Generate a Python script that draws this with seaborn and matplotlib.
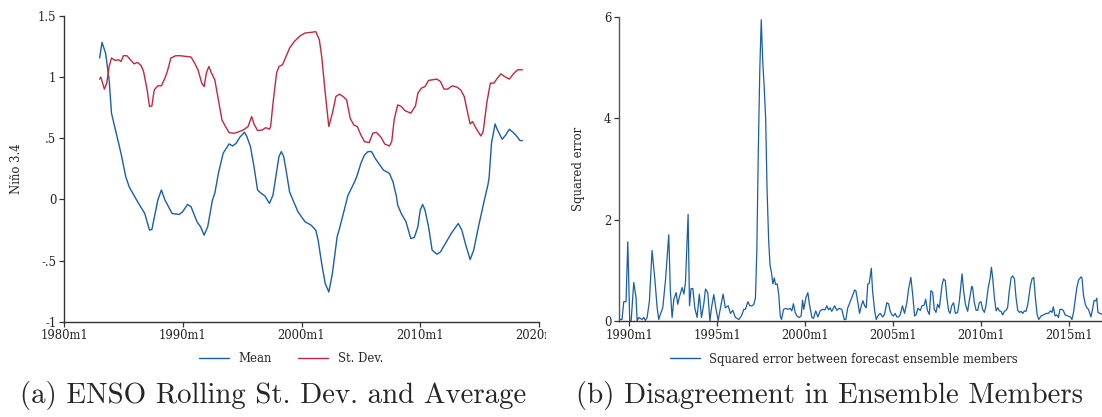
import numpy as np
import pandas as pd
import matplotlib
matplotlib.use("Agg")
import matplotlib.pyplot as plt
import seaborn as sns
from matplotlib.lines import Line2D
from matplotlib.transforms import Bbox, TransformedBbox

# ---- data ----
# (a) rolling mean of Nino 3.4
mean_year = [1983.0, 1983.2, 1983.5, 1983.8, 1984.0, 1984.4, 1984.8, 1985.2, 1985.5, 1986.2,
             1986.8, 1987.2, 1987.4, 1987.9, 1988.2, 1988.5, 1989.1, 1989.7, 1990.0, 1990.4,
             1990.7, 1991.2, 1991.5, 1991.8, 1992.1, 1992.5, 1992.7, 1993.0, 1993.4, 1993.9,
             1994.2, 1994.5, 1994.8, 1995.2, 1995.4, 1995.7, 1996.0, 1996.3, 1996.6, 1996.9,
             1997.3, 1997.6, 1998.1, 1998.3, 1998.5, 1998.7, 1999.0, 1999.4, 1999.7, 2000.0,
             2000.3, 2000.8, 2001.2, 2001.4, 2001.7, 2002.0, 2002.3, 2002.6, 2003.0, 2003.2,
             2003.6, 2003.9, 2004.2, 2004.5, 2004.7, 2005.0, 2005.3, 2005.6, 2005.9, 2006.2,
             2006.5, 2006.9, 2007.4, 2007.7, 2008.0, 2008.1, 2008.4, 2008.8, 2009.2, 2009.5,
             2009.8, 2010.0, 2010.2, 2010.4, 2010.7, 2011.0, 2011.4, 2011.7, 2012.2, 2012.6,
             2013.2, 2013.5, 2013.8, 2014.2, 2014.5, 2014.9, 2015.4, 2015.7, 2015.8, 2016.0,
             2016.3, 2016.5, 2016.9, 2017.2, 2017.5, 2017.9, 2018.2, 2018.4, 2018.6]
mean_val = [1.156, 1.284, 1.197, 0.978, 0.705, 0.541, 0.377, 0.186, 0.10, -0.019,
            -0.115, -0.251, -0.246, -0.005, 0.077, -0.005, -0.115, -0.123, -0.10, -0.041,
            -0.06, -0.183, -0.224, -0.292, -0.224, -0.005, 0.05, 0.213, 0.377, 0.454,
            0.437, 0.459, 0.508, 0.549, 0.514, 0.432, 0.268, 0.077, 0.05, 0.03,
            -0.033, 0.036, 0.35, 0.391, 0.35, 0.24, 0.06, -0.033, -0.101, -0.142,
            -0.183, -0.21, -0.251, -0.333, -0.525, -0.689, -0.757, -0.607, -0.306, -0.238,
            -0.087, 0.03, 0.09, 0.15, 0.2, 0.295, 0.363, 0.391, 0.391, 0.336,
            0.295, 0.24, 0.213, 0.145, 0.022, -0.046, -0.115, -0.183, -0.32, -0.311,
            -0.224, -0.087, -0.041, -0.087, -0.224, -0.415, -0.448, -0.429, -0.347, -0.279,
            -0.197, -0.251, -0.361, -0.492, -0.415, -0.224, -0.005, 0.12, 0.18, 0.459,
            0.617, 0.568, 0.492, 0.527, 0.574, 0.541, 0.508, 0.481, 0.481]

# (a) rolling standard deviation
sd_year = [1983.0, 1983.1, 1983.4, 1983.6, 1983.8, 1984.0, 1984.3, 1984.6, 1984.8, 1985.0,
           1985.3, 1985.6, 1985.9, 1986.2, 1986.5, 1986.7, 1987.0, 1987.2, 1987.4, 1987.6,
           1987.9, 1988.2, 1988.5, 1988.7, 1989.0, 1989.4, 1989.8, 1990.3, 1990.7, 1991.0,
           1991.3, 1991.6, 1991.8, 1992.0, 1992.2, 1992.4, 1992.7, 1993.0, 1993.3, 1993.6,
           1993.9, 1994.3, 1994.6, 1995.1, 1995.5, 1995.8, 1996.0, 1996.3, 1996.7, 1997.0,
           1997.3, 1997.4, 1997.6, 1997.9, 1998.1, 1998.4, 1998.7, 1999.0, 1999.4, 1999.9,
           2000.3, 2000.8, 2001.2, 2001.5, 2001.7, 2002.0, 2002.3, 2002.6, 2002.9, 2003.2,
           2003.5, 2003.8, 2004.1, 2004.4, 2004.7, 2005.0, 2005.3, 2005.7, 2006.0, 2006.3,
           2006.7, 2007.0, 2007.4, 2007.6, 2007.8, 2008.1, 2008.4, 2008.7, 2009.2, 2009.6,
           2009.8, 2010.1, 2010.4, 2010.7, 2011.0, 2011.4, 2011.7, 2012.0, 2012.3, 2012.7,
           2013.1, 2013.4, 2013.7, 2014.0, 2014.2, 2014.4, 2014.7, 2015.1, 2015.3, 2015.6,
           2015.9, 2016.2, 2016.5, 2016.8, 2017.1, 2017.5, 2017.9, 2018.2, 2018.6]
sd_val = [0.984, 1.0, 0.902, 0.951, 1.087, 1.156, 1.137, 1.142, 1.128, 1.175,
          1.175, 1.142, 1.109, 1.12, 1.093, 1.046, 0.896, 0.76, 0.765, 0.896,
          0.929, 0.929, 0.992, 1.046, 1.156, 1.175, 1.175, 1.169, 1.164, 1.115,
          1.055, 0.951, 0.923, 1.038, 1.087, 1.038, 0.978, 0.814, 0.65, 0.596,
          0.546, 0.541, 0.549, 0.568, 0.596, 0.678, 0.617, 0.563, 0.568, 0.587,
          0.574, 0.596, 0.787, 1.033, 1.087, 1.101, 1.169, 1.238, 1.292, 1.339,
          1.361, 1.366, 1.372, 1.306, 1.169, 0.869, 0.596, 0.705, 0.842, 0.861,
          0.842, 0.814, 0.664, 0.609, 0.596, 0.527, 0.473, 0.464, 0.541, 0.549,
          0.508, 0.454, 0.437, 0.473, 0.65, 0.773, 0.76, 0.727, 0.705, 0.765,
          0.869, 0.91, 0.923, 0.973, 0.978, 0.984, 0.964, 0.902, 0.902, 0.929,
          0.918, 0.896, 0.842, 0.705, 0.617, 0.637, 0.582, 0.519, 0.555, 0.787,
          0.951, 0.951, 0.992, 1.027, 1.005, 0.984, 1.033, 1.06, 1.06]

# (b) squared error between forecast ensemble members
err_year = [1989.40, 1989.58, 1989.68, 1989.81, 1989.91, 1990.02, 1990.10, 1990.25, 1990.38, 1990.44,
            1990.53, 1990.63, 1990.72, 1990.82, 1990.91, 1991.01, 1991.14, 1991.29, 1991.44, 1991.58,
            1991.67, 1991.76, 1991.90, 1992.05, 1992.24, 1992.33, 1992.43, 1992.53, 1992.66, 1992.75,
            1992.85, 1993.00, 1993.10, 1993.19, 1993.34, 1993.42, 1993.51, 1993.61, 1993.72, 1993.85,
            1993.98, 1994.10, 1994.23, 1994.33, 1994.46, 1994.58, 1994.67, 1994.80, 1994.93, 1995.05,
            1995.18, 1995.33, 1995.46, 1995.62, 1995.75, 1995.88, 1996.03, 1996.23, 1996.37, 1996.51,
            1996.60, 1996.74, 1996.85, 1996.98, 1997.08, 1997.17, 1997.25, 1997.33, 1997.42, 1997.50,
            1997.58, 1997.67, 1997.75, 1997.83, 1997.92, 1998.00, 1998.08, 1998.16, 1998.24, 1998.31,
            1998.41, 1998.50, 1998.58, 1998.65, 1998.77, 1998.90, 1999.01, 1999.14, 1999.24, 1999.33,
            1999.43, 1999.52, 1999.66, 1999.77, 1999.85, 1999.92, 2000.04, 2000.15, 2000.24, 2000.38,
            2000.47, 2000.60, 2000.72, 2000.85, 2000.98, 2001.13, 2001.23, 2001.33, 2001.42, 2001.51,
            2001.67, 2001.80, 2001.93, 2002.08, 2002.22, 2002.31, 2002.42, 2002.56, 2002.69, 2002.81,
            2002.88, 2003.00, 2003.09, 2003.19, 2003.28, 2003.38, 2003.47, 2003.56, 2003.64, 2003.76,
            2003.83, 2003.95, 2004.04, 2004.17, 2004.27, 2004.40, 2004.51, 2004.64, 2004.74, 2004.83,
            2004.93, 2005.02, 2005.12, 2005.21, 2005.31, 2005.40, 2005.53, 2005.65, 2005.78, 2005.88,
            2006.01, 2006.11, 2006.22, 2006.30, 2006.41, 2006.55, 2006.64, 2006.76, 2006.85, 2006.95,
            2007.06, 2007.15, 2007.25, 2007.34, 2007.44, 2007.53, 2007.63, 2007.78, 2007.87, 2007.97,
            2008.06, 2008.16, 2008.24, 2008.33, 2008.44, 2008.54, 2008.67, 2008.77, 2008.92, 2009.01,
            2009.11, 2009.24, 2009.33, 2009.47, 2009.52, 2009.62, 2009.72, 2009.81, 2009.90, 2010.00,
            2010.09, 2010.19, 2010.28, 2010.41, 2010.51, 2010.59, 2010.66, 2010.76, 2010.86, 2010.95,
            2011.04, 2011.14, 2011.23, 2011.33, 2011.42, 2011.51, 2011.61, 2011.71, 2011.80, 2011.90,
            2011.99, 2012.09, 2012.18, 2012.28, 2012.37, 2012.47, 2012.56, 2012.66, 2012.81, 2012.90,
            2013.00, 2013.09, 2013.19, 2013.28, 2013.42, 2013.55, 2013.70, 2013.83, 2013.95, 2014.04,
            2014.11, 2014.21, 2014.30, 2014.40, 2014.49, 2014.59, 2014.68, 2014.78, 2014.93, 2015.08,
            2015.17, 2015.26, 2015.36, 2015.45, 2015.55, 2015.69, 2015.74, 2015.83, 2015.93, 2016.02,
            2016.11, 2016.25, 2016.34, 2016.43, 2016.53, 2016.58, 2016.65, 2016.77, 2016.88]
err_val = [0.03, 0.03, 0.38, 0.38, 1.56, 0.0, 0.0, 0.76, 0.46, 0.0,
           0.07, 0.05, 0.03, 0.07, 0.01, 0.07, 0.40, 1.39, 0.86, 0.26,
           0.03, 0.13, 0.26, 0.79, 1.70, 0.60, 0.07, 0.43, 0.56, 0.33,
           0.48, 0.66, 0.53, 0.76, 2.10, 0.30, 0.64, 0.64, 0.26, 0.07,
           0.53, 0.07, 0.33, 0.63, 0.56, 0.0, 0.26, 0.52, 0.23, 0.01,
           0.26, 0.53, 0.26, 0.30, 0.15, 0.21, 0.07, 0.03, 0.10, 0.23,
           0.23, 0.38, 0.30, 0.30, 0.33, 0.46, 1.40, 3.30, 5.00, 5.94,
           5.15, 4.60, 4.00, 2.60, 1.60, 1.10, 0.96, 0.73, 0.85, 0.72,
           0.73, 0.50, 0.10, 0.03, 0.23, 0.25, 0.23, 0.25, 0.20, 0.34,
           0.17, 0.10, 0.07, 0.10, 0.41, 0.23, 0.46, 0.56, 0.33, 0.07,
           0.05, 0.20, 0.08, 0.20, 0.23, 0.22, 0.30, 0.22, 0.26, 0.19,
           0.30, 0.21, 0.25, 0.23, 0.03, 0.03, 0.26, 0.38, 0.50, 0.61,
           0.60, 0.36, 0.15, 0.30, 0.40, 0.30, 0.26, 0.73, 0.74, 1.04,
           0.60, 0.20, 0.03, 0.12, 0.15, 0.08, 0.13, 0.36, 0.34, 0.20,
           0.12, 0.10, 0.15, 0.08, 0.08, 0.12, 0.30, 0.15, 0.36, 0.63,
           0.86, 0.53, 0.10, 0.12, 0.25, 0.21, 0.30, 0.31, 0.43, 0.21,
           0.13, 0.60, 0.56, 0.23, 0.17, 0.33, 0.26, 0.70, 0.83, 0.79,
           0.45, 0.20, 0.15, 0.30, 0.36, 0.15, 0.17, 0.40, 0.93, 0.60,
           0.33, 0.19, 0.40, 0.68, 0.66, 0.36, 0.21, 0.21, 0.36, 0.38,
           0.23, 0.17, 0.30, 0.66, 0.83, 1.06, 0.86, 0.46, 0.20, 0.26,
           0.20, 0.19, 0.12, 0.19, 0.21, 0.26, 0.60, 0.85, 0.89, 0.83,
           0.46, 0.21, 0.17, 0.19, 0.15, 0.20, 0.19, 0.33, 0.70, 0.83,
           0.86, 0.46, 0.13, 0.03, 0.10, 0.12, 0.15, 0.15, 0.20, 0.17,
           0.28, 0.10, 0.12, 0.07, 0.23, 0.23, 0.21, 0.12, 0.10, 0.08,
           0.03, 0.17, 0.43, 0.66, 0.81, 0.87, 0.85, 0.50, 0.33, 0.26,
           0.23, 0.08, 0.23, 0.40, 0.40, 0.45, 0.17, 0.15, 0.13]

left_xticks = [1980, 1990, 2000, 2010, 2020]
left_xlabels = ["1980m1", "1990m1", "2000m1", "2010m1", "2020m1"]
left_yticks = [-1, -0.5, 0, 0.5, 1, 1.5]
left_ylabels = ["-1", "-.5", "0", ".5", "1", "1.5"]
right_xticks = [1990, 1995, 2000, 2005, 2010, 2015]
right_xlabels = ["1990m1", "1995m1", "2000m1", "2005m1", "2010m1", "2015m1"]
right_yticks = [0, 2, 4, 6]

blue = "#1a5ea8"
red = "#c1273d"

sns.set_style("ticks")
plt.rcParams["font.family"] = ["DejaVu Serif"]
plt.rcParams["font.size"] = 8.4

fig = plt.figure(figsize=(11.02, 4.17), dpi=100)
W, H = 1102, 417

ax1 = fig.add_axes([64 / W, 1 - 321.7 / H, 475 / W, 305.7 / H])
ax2 = fig.add_axes([619 / W, 1 - 321 / H, 483 / W, 304.3 / H])

sns.lineplot(x=mean_year, y=mean_val, ax=ax1, color=blue, linewidth=1.0,
             estimator=None, sort=False)
sns.lineplot(x=sd_year, y=sd_val, ax=ax1, color=red, linewidth=1.0,
             estimator=None, sort=False)
sns.lineplot(x=err_year, y=err_val, ax=ax2, color=blue, linewidth=0.9,
             estimator=None, sort=False)

ax1.set_xlim(1980, 2020)
ax1.set_ylim(-1, 1.5)
ax1.set_xticks(left_xticks, left_xlabels)
ax1.set_yticks(left_yticks, left_ylabels)
ax1.set_ylabel("Niño 3.4")
ax1.yaxis.set_label_coords(-0.086, 0.5)

ax2.set_xlim(1989.41, 2016.88)
ax2.set_ylim(0, 6)
ax2.set_xticks(right_xticks, right_xlabels)
ax2.set_yticks(right_yticks, [str(t) for t in right_yticks])
ax2.set_ylabel("Squared error")
ax2.yaxis.set_label_coords(-0.070, 0.5)

for ax, lc in [(ax1, "#333333"), (ax2, "#555555")]:
    sns.despine(ax=ax)
    ax.spines["left"].set_color(lc)
    ax.spines["bottom"].set_color("#333333")
    ax.spines["left"].set_linewidth(1.0)
    ax.spines["bottom"].set_linewidth(1.0)
    ax.tick_params(length=3.5, width=0.9, pad=2, colors="#333333", labelcolor="#222222")
    ax.set_xlabel("")
    ax.patch.set_alpha(0)

# the left panel was cropped in the source: its last tick label is cut off
clip = TransformedBbox(Bbox([[0, 0], [546 / W, 1]]), fig.transFigure)
last = ax1.get_xticklabels()[-1]
last.set_clip_box(clip)
last.set_clip_on(True)

h1 = [Line2D([], [], color=blue, lw=1.0), Line2D([], [], color=red, lw=1.0)]
fig.legend(h1, ["Mean", "St. Dev."], loc="center", ncol=2, frameon=False,
           bbox_to_anchor=(291 / W, 1 - 359 / H), handlelength=2.6, columnspacing=2.2,
           handletextpad=0.8)
h2 = [Line2D([], [], color=blue, lw=1.0)]
fig.legend(h2, ["Squared error between forecast ensemble members"], loc="center",
           frameon=False, bbox_to_anchor=(844 / W, 1 - 359 / H), handlelength=2.6,
           handletextpad=0.8)

fig.text(273 / W, 1 - 396 / H, "(a) ENSO Rolling St. Dev. and Average",
         family="cmr10", fontsize=20.8, ha="center", va="center")
fig.text(830 / W, 1 - 396 / H, "(b) Disagreement in Ensemble Members",
         family="cmr10", fontsize=20.8, ha="center", va="center")

fig.savefig("out.png", dpi=100)
